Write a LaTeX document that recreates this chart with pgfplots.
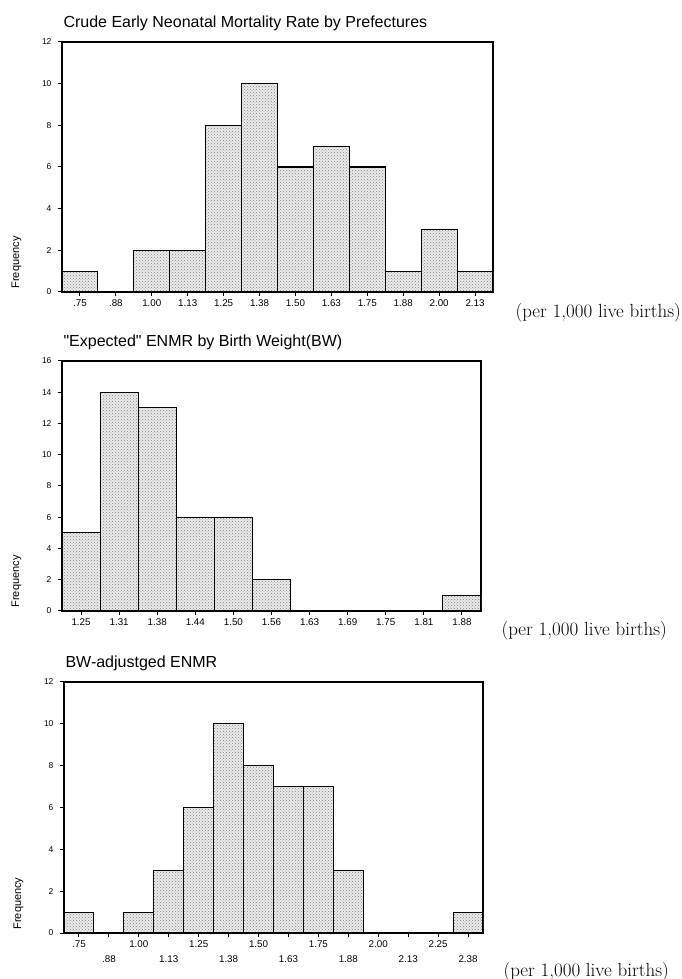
\documentclass[border=0pt]{standalone}
\usepackage{fontspec}
\setsansfont{Liberation Sans}
\newfontfamily\sfplain{Liberation Sans}[Ligatures=ResetAll]
\usepackage{pgfplots}
\pgfplotsset{compat=1.18}
\usetikzlibrary{patterns}
\pgfplotsset{
  histo/.style={
    scale only axis,
    anchor=south west,
    ybar, bar width=1,
    ymin=0, enlargelimits=false,
    tick pos=left,
    tick align=outside,
    major tick length=4pt,
    axis line style={line width=1.3pt},
    every tick/.style={black, line width=1pt},
    /pgf/number format/assume math mode=true,
    yticklabel style={font=\sffamily\fontsize{8.5}{10}\selectfont, xshift=-3pt},
    xticklabel style={font=\sffamily\fontsize{9.8}{11}\selectfont},
    xtick=data,
    title style={at={(0,1)}, anchor=west, yshift=13pt, xshift=-2pt, font=\sffamily\fontsize{16}{18}\selectfont},
    every axis y label/.style={at={(0,0)}, xshift=-37pt, rotate=90, anchor=south west, font=\sffamily\fontsize{11}{12}\selectfont},
    every axis x label/.style={at={(1,0)}, anchor=west, font=\rmfamily\fontsize{19}{22}\selectfont},
    ylabel={Frequency},
    xlabel={(per 1,000 live births)},
  },
  histbar/.style={draw=black, line width=1.1pt, fill=gray!16, postaction={pattern=crosshatch dots, pattern color=gray}},
}
\begin{document}
\begin{tikzpicture}[x=1pt,y=1pt]
\useasboundingbox (0,0) rectangle (681,979);
% Panel 1
\begin{axis}[histo,
  at={(62pt,687pt)}, width=431pt, height=250pt,
  xmin=-0.5, xmax=11.5, ymax=12, ytick={0,2,...,12},
  xticklabels={.75,.88,1.00,1.13,1.25,1.38,1.50,1.63,1.75,1.88,2.00,2.13},
  title={Crude Early Neonatal Mortality Rate by Prefectures},
  x label style={xshift=19pt, yshift=-21pt},
]
\addplot[histbar] coordinates {(0,1) (1,0) (2,2) (3,2) (4,8) (5,10) (6,6) (7,7) (8,6) (9,1) (10,3) (11,1)};
\end{axis}
% Panel 2
\begin{axis}[histo,
  at={(62pt,368pt)}, width=419pt, height=250pt,
  xmin=-0.5, xmax=10.5, ymax=16, ytick={0,2,...,16},
  xticklabels={1.25,1.31,1.38,1.44,1.50,1.56,1.63,1.69,1.75,1.81,1.88},
  title={{\sfplain "Expected"} ENMR by Birth Weight(BW)},
  x label style={xshift=17pt, yshift=-20pt},
]
\addplot[histbar] coordinates {(0,5) (1,14) (2,13) (3,6) (4,6) (5,2) (6,0) (7,0) (8,0) (9,0) (10,1)};
\end{axis}
% Panel 3
\begin{axis}[histo,
  at={(64pt,46pt)}, width=419pt, height=251pt,
  xmin=-0.5, xmax=13.5, ymax=12, ytick={0,2,...,12},
  xtick={0,2,4,6,8,10,12},
  xticklabels={.75,1.00,1.25,1.50,1.75,2.00,2.25},
  extra x ticks={1,3,5,7,9,11,13},
  extra x tick labels={.88,1.13,1.38,1.63,1.88,2.13,2.38},
  extra x tick style={xticklabel style={yshift=-15pt}},
  title={BW-adjustged ENMR},
  x label style={xshift=17pt, yshift=-39pt},
]
\addplot[histbar] coordinates {(0,1) (1,0) (2,1) (3,3) (4,6) (5,10) (6,8) (7,7) (8,7) (9,3) (10,0) (11,0) (12,0) (13,1)};
\end{axis}
\end{tikzpicture}
\end{document}
